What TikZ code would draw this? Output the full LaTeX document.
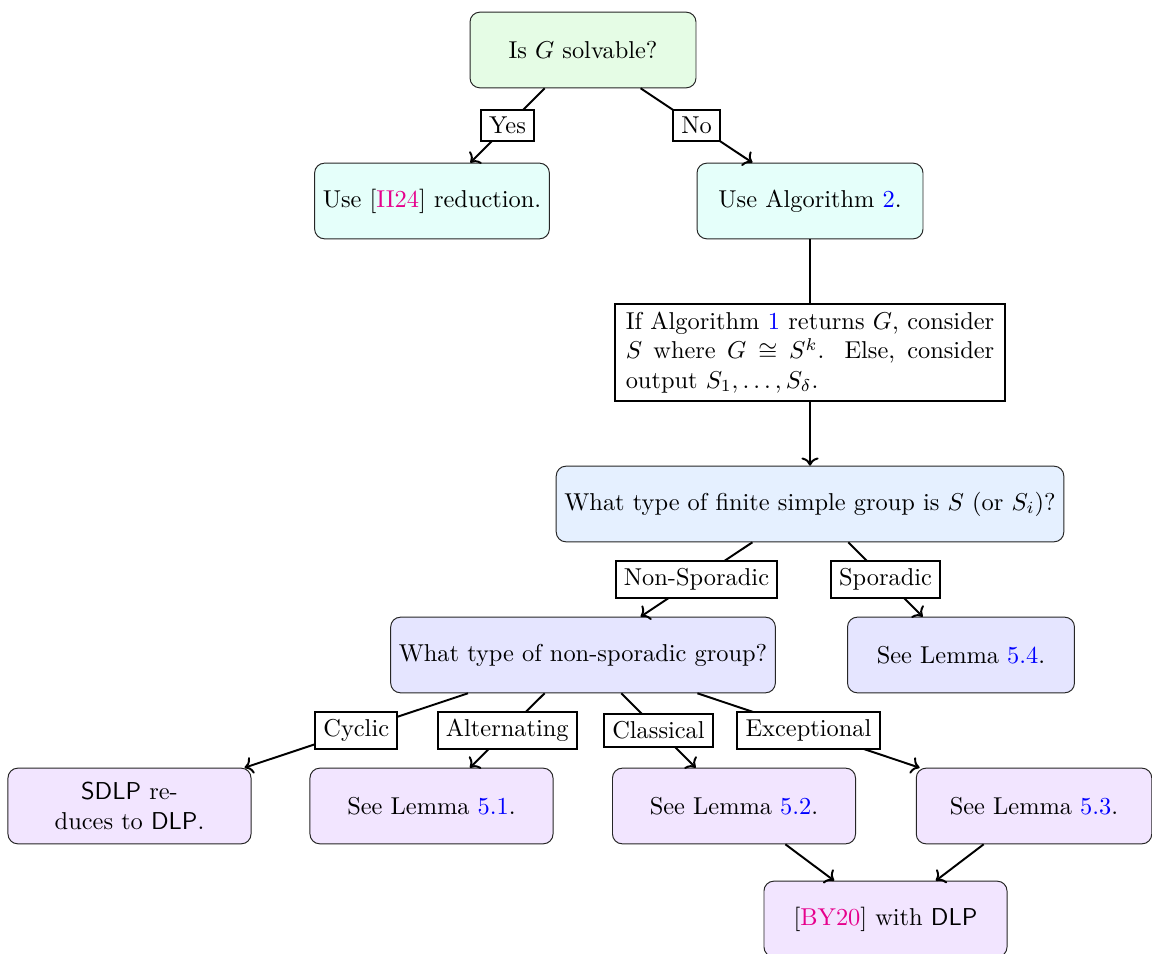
\documentclass[tikz,border=0pt]{standalone}
\usetikzlibrary{arrows.meta}
\definecolor{cgreen}{RGB}{229,252,229}
\definecolor{ccyan}{RGB}{229,255,250}
\definecolor{cblue}{RGB}{229,240,255}
\definecolor{clav}{RGB}{229,229,255}
\definecolor{cpurp}{RGB}{242,229,255}
\definecolor{citec}{RGB}{230,0,140}
\definecolor{linkc}{RGB}{0,0,255}
\newcommand{\lnk}[1]{\textcolor{linkc}{#1}}
\newcommand{\cit}[1]{[\textcolor{citec}{#1}]}
\begin{document}
\begin{tikzpicture}[x=0.4098pt,y=-0.4098pt,
  rnode/.style={draw=black!85, rounded corners=4pt, minimum height=31pt, align=center},
  lbl/.style={draw, fill=white, thick, inner xsep=3.4pt, inner ysep=3pt},
  ifbox/.style={draw, fill=white, thick, text width=151pt, align=justify, inner xsep=4.4pt, inner ysep=3.2pt},
  conn/.style={thick, ->},
]
\useasboundingbox (0,0) rectangle (1152,954);

\node[rnode, fill=cgreen, minimum width=92.6pt] (root) at (583,50) {Is $G$ solvable?};
\node[rnode, fill=ccyan, minimum width=92.6pt] (ii) at (432,201) {Use \cit{II24} reduction.};
\node[rnode, fill=ccyan, minimum width=92.6pt] (alg) at (810,201) {Use Algorithm \lnk{2}.};
\node[rnode, fill=cblue] (fin) at (810,504) {What type of finite simple group is $S$ (or $S_i$)?};
\node[rnode, fill=clav] (ns) at (583,655) {What type of non-sporadic group?};
\node[rnode, fill=clav, minimum width=93pt] (l54) at (961,655) {See Lemma \lnk{5.4}.};
\node[rnode, fill=cpurp, minimum width=99.6pt] (cyc) at (129.5,806) {\textsf{SDLP} re-\\duces to \textsf{DLP}.};
\node[rnode, fill=cpurp, minimum width=99.6pt] (l51) at (431.5,806) {See Lemma \lnk{5.1}.};
\node[rnode, fill=cpurp, minimum width=99.6pt] (l52) at (734,806) {See Lemma \lnk{5.2}.};
\node[rnode, fill=cpurp, minimum width=96.5pt] (l53) at (1034,806) {See Lemma \lnk{5.3}.};
\node[rnode, fill=cpurp, minimum width=99.6pt] (by) at (885.5,919) {\cit{BY20} with \textsf{DLP}};

\draw[conn] (root) -- node[lbl] (yes) {Yes} (ii);
\draw[conn] (root) -- node[lbl] (no) {No} (alg);
\draw[conn] (alg) -- node[ifbox] (ifb) {If Algorithm \lnk{1} returns $G$, consider $S$ where $G\cong S^k$. Else, consider output $S_1,\ldots,S_\delta$.} (fin);
\draw[conn] (fin) -- node[lbl] (nsl) {Non-Sporadic} (ns);
\draw[conn] (fin) -- node[lbl] (spl) {Sporadic} (l54);
\draw[conn] (ns) -- node[lbl] (cl) {Cyclic} (cyc);
\draw[conn] (ns) -- node[lbl] (al) {Alternating} (l51);
\draw[conn] (ns) -- node[lbl] (cll) {Classical} (l52);
\draw[conn] (ns) -- node[lbl] (exl) {Exceptional} (l53);
\draw[conn] (l52) -- (by);
\draw[conn] (l53) -- (by);
\end{tikzpicture}
\end{document}
